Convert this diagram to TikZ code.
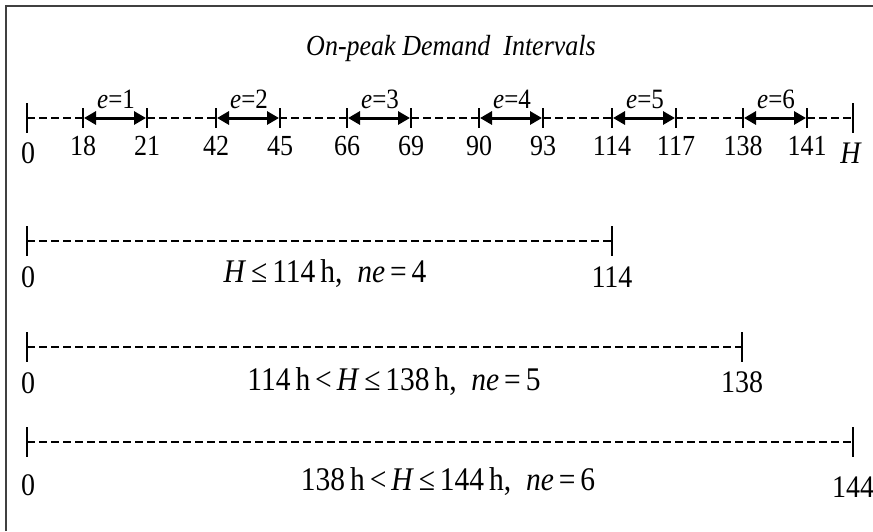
\documentclass[tikz,border=0pt]{standalone}
\usepackage{fontspec}
\usepackage{graphicx}
\setmainfont{Liberation Serif}
\usetikzlibrary{arrows.meta}
\newcommand{\vstr}[1]{\scalebox{1}[1.12]{#1}}
\begin{document}
\begin{tikzpicture}[x=1pt,y=-1pt,
  tick/.style={line width=1.4pt},
  dline/.style={line width=1.2pt, dash pattern=on 7.5pt off 4.5pt},
  intv/.style={line width=3pt, {Triangle[length=12pt,width=13pt]}-{Triangle[length=12pt,width=13pt]}, shorten <=1pt, shorten >=1pt},
  num/.style={font=\fontsize{26}{26}\selectfont, anchor=base, inner sep=0pt},
  big/.style={font=\fontsize{28}{28}\selectfont, anchor=base, inner sep=0pt},
  txt/.style={font=\fontsize{29.5}{30}\selectfont, anchor=base, inner sep=0pt},
  elab/.style={font=\fontsize{25}{25}\selectfont, anchor=base, inner sep=0pt},
  ttl/.style={font=\itshape\fontsize{26}{26}\selectfont, anchor=base, inner sep=0pt},
  frame/.style={line width=1.5pt, black!75}]
\useasboundingbox (0,0) rectangle (873,531);
\draw[frame] (6,531) -- (6,6) -- (873,6);
\node[ttl] (title) at (451,55) {\vstr{On-peak Demand\ \ Intervals}};
% row 1
\coordinate (a0) at (27,118);
\coordinate (aH) at (853,118);
\draw[dline] (a0) -- (aH);
\draw[tick] ([yshift=15pt]a0) -- ([yshift=-15pt]a0);
\draw[tick] ([yshift=15pt]aH) -- ([yshift=-15pt]aH);
\node[big] (l0) at (28,163) {\vstr{0}};
\node[big] (lH) at (851,163) {\vstr{\textit{H}}};
\foreach \i/\x/\a/\b in {1/83/18/21, 2/216/42/45, 3/347/66/69, 4/479/90/93, 5/612/114/117, 6/743/138/141}{
  \coordinate (s\i) at (\x,118);
  \coordinate (t\i) at (\x+64,118);
  \draw[tick] ([yshift=10pt]s\i) -- ([yshift=-10pt]s\i);
  \draw[tick] ([yshift=10pt]t\i) -- ([yshift=-10pt]t\i);
  \draw[intv] (s\i) -- (t\i);
  \node[num] (ls\i) at (\x,155) {\vstr{\a}};
  \node[num] (lt\i) at (\x+64,155) {\vstr{\b}};
  \node[elab] (e\i) at (\x+33,108) {\vstr{\textit{e}=\i}};
}
% row 2
\coordinate (b0) at (27,241);
\coordinate (b1) at (612,241);
\draw[dline] (b0) -- (b1);
\draw[tick] ([yshift=15pt]b0) -- ([yshift=-15pt]b0);
\draw[tick] ([yshift=15pt]b1) -- ([yshift=-15pt]b1);
\node[big] (bl0) at (28,287) {\vstr{0}};
\node[big] (bl1) at (612,287) {\vstr{114}};
\node[txt] (bt) at (325,282) {\vstr{\textit{H}\,≤\,114\,h,\ \ \textit{ne}\,=\,4}};
% row 3
\coordinate (c0) at (27,347);
\coordinate (c1) at (742,347);
\draw[dline] (c0) -- (c1);
\draw[tick] ([yshift=15pt]c0) -- ([yshift=-15pt]c0);
\draw[tick] ([yshift=15pt]c1) -- ([yshift=-15pt]c1);
\node[big] (cl0) at (28,393) {\vstr{0}};
\node[big] (cl1) at (742,392) {\vstr{138}};
\node[txt] (ct) at (394,390) {\vstr{114\,h\,<\,\textit{H}\,≤\,138\,h,\ \ \textit{ne}\,=\,5}};
% row 4
\coordinate (d0) at (27,442);
\coordinate (d1) at (853,442);
\draw[dline] (d0) -- (d1);
\draw[tick] ([yshift=15pt]d0) -- ([yshift=-15pt]d0);
\draw[tick] ([yshift=15pt]d1) -- ([yshift=-15pt]d1);
\node[big] (dl0) at (28,495) {\vstr{0}};
\node[big] (dl1) at (853,497) {\vstr{144}};
\node[txt] (dt) at (448,490) {\vstr{138\,h\,<\,\textit{H}\,≤\,144\,h,\ \ \textit{ne}\,=\,6}};
\end{tikzpicture}
\end{document}
